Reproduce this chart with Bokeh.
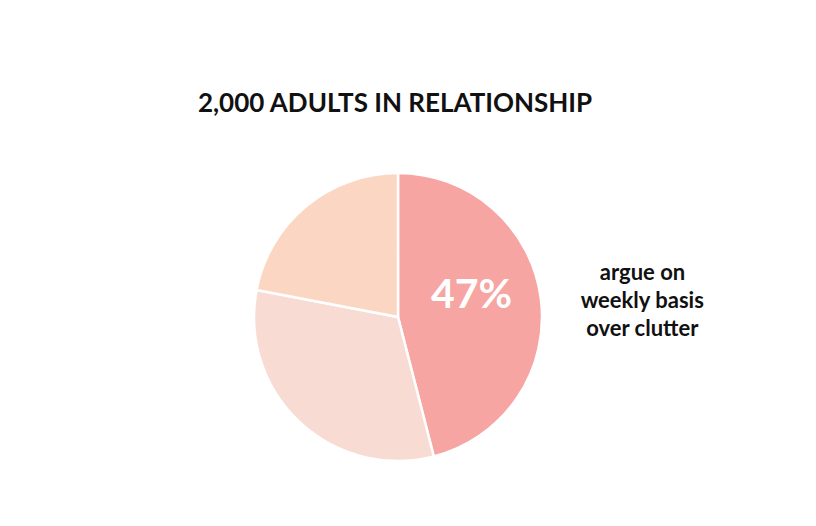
import math
from bokeh.plotting import figure
from bokeh.models import Range1d, ColumnDataSource
from bokeh.core.properties import value
from bokeh.embed import file_html
from bokeh.resources import INLINE

# Data (slice sizes)
categories = ["argue weekly over clutter", "other A", "other B"]
shares = [46, 32, 22]
colors = ["#F7A5A2", "#F8DBD2", "#FBD7C3"]
title_text = "2,000 ADULTS IN RELATIONSHIP"
label_text = "47%"
note_lines = ["argue on", "weekly basis", "over clutter"]

W, H = 800, 510
p = figure(width=W, height=H, output_backend="svg", toolbar_location=None,
           x_range=Range1d(0, W), y_range=Range1d(0, H), min_border=0)
p.axis.visible = False
p.grid.visible = False
p.outline_line_color = None
p.background_fill_color = "white"
p.border_fill_color = "white"

def sy(y):
    return H - y

def sx(x):
    return x

cx, cy, r = sx(397.5), sy(316.5), 144
total = sum(shares)
starts, ends = [], []
acc = 0.0
for v in shares:
    a0 = math.pi / 2 - 2 * math.pi * acc / total
    acc += v
    a1 = math.pi / 2 - 2 * math.pi * acc / total
    starts.append(a0)
    ends.append(a1)

src = ColumnDataSource(dict(x=[cx] * len(shares), y=[cy] * len(shares),
                            start=starts, end=ends, color=colors, cat=categories))
p.wedge(x="x", y="y", radius=r, start_angle="start", end_angle="end",
        direction="clock", fill_color="color", line_color="white", line_width=2.5,
        source=src)

font = value("Lato")
p.text(x=[sx(395)], y=[sy(101)], text=[title_text], text_font=font,
       text_font_style="bold", text_font_size="26px", text_color="#111111",
       text_align="center", text_baseline="middle")

p.text(x=[sx(471)], y=[sy(292)], text=[label_text], text_font=font,
       text_font_style="bold", text_font_size="41px", text_color="white",
       text_align="center", text_baseline="middle")

ys = [271, 299, 327]
p.text(x=[sx(642)] * 3, y=[sy(v) for v in ys], text=note_lines, text_font=font,
       text_font_style="bold", text_font_size="22px", text_color="#111111",
       text_align="center", text_baseline="middle")

open("out.html", "w").write(file_html(p, INLINE))
